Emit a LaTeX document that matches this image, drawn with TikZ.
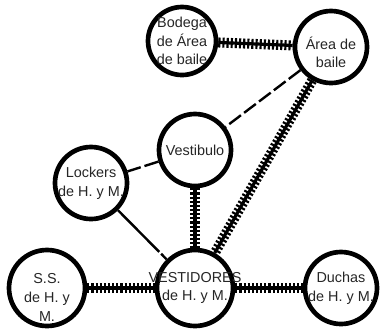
\documentclass[tikz,border=0pt]{standalone}
\usepackage{fontspec}
\setmainfont{Liberation Sans}
\usetikzlibrary{positioning}

\begin{document}
\begin{tikzpicture}[x=0.75pt,y=-0.75pt,
every label/.style={font=\fontsize{10.8}{14}\selectfont,align=center,text=black!85},
room/.style={circle,draw,line width=3.5pt,minimum size=54pt,inner sep=0pt,fill=white},
bigroom/.style={room,minimum size=57pt},
hatch/.style={line width=2.4pt,preaction={draw,line width=7.5pt,dash pattern=on 1.6pt off 1.5pt}},
near/.style={line width=1.8pt,dash pattern=on 11pt off 3pt},
link/.style={line width=1.8pt,dash pattern=on 44pt off 2pt}
]
\useasboundingbox (0,0) rectangle (381,329);

% rooms
\node[room,minimum size=51pt,label=center:{Bodega\\de Área\\de baile}] (bodega) at (182,41) {};
\node[room,label={[yshift=-4pt]center:{Área de\\baile}}] (baile) at (331,47) {};
\node[room,label=center:{Vestibulo}] (vestibulo) at (195,150) {};
\node[room,label=center:{Lockers\\de H. y M.}] (lockers) at (91,183) {};
\node[bigroom,label=center:{VESTIDORES\\de H. y M.}] (vestidores) at (195,288) {};
\node[bigroom,label={[yshift=-7pt]center:{S.S.\\de H. y\\M.}}] (ss) at (47,288) {};
\node[room,label=center:{Duchas\\de H. y M.}] (duchas) at (341,288) {};

% links
\draw[hatch] (bodega) -- (baile);
\draw[hatch] (baile) -- (vestidores);
\draw[hatch] (vestibulo) -- (vestidores);
\draw[hatch] (ss) -- (vestidores);
\draw[hatch] (vestidores) -- (duchas);
\draw[near] (baile) -- (vestibulo);
\draw[near] (vestibulo) -- (lockers);
\draw[link] (lockers) -- (vestidores);
\end{tikzpicture}
\end{document}
